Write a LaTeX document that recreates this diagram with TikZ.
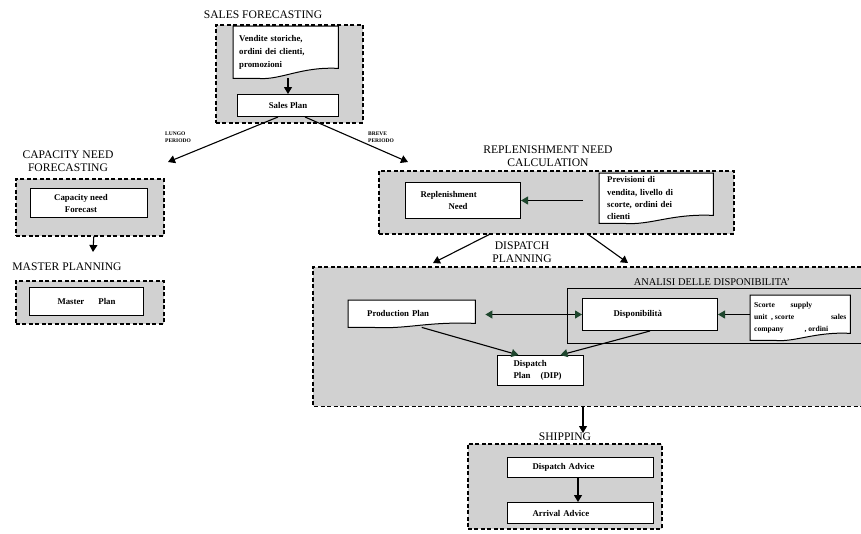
\documentclass[tikz,border=0pt]{standalone}
\usepackage{fontspec}
\setmainfont{Liberation Serif}
\usetikzlibrary{arrows.meta,calc}
\pgfdeclarelayer{back}
\pgfdeclarelayer{mid}
\pgfsetlayers{back,mid,main}
\definecolor{grpfill}{gray}{0.82}
\definecolor{tipgreen}{RGB}{30,70,45}
\newcommand\mydocshape[2]{%
\begin{pgfonlayer}{mid}
\draw[line width=1pt, fill=white] (#1.south west) -- (#1.north west) -- (#1.north east) -- ($(#1.south east)+(0,-#2)$)
  .. controls ($(#1.south)+(15,{-#2-2})$) and ($(#1.south)+(-5,2)$) .. ($(#1.south west)+(25,0)$) -- cycle;
\end{pgfonlayer}}
\begin{document}
\begin{tikzpicture}[x=1pt,y=-1pt,
  group/.style={draw, line width=1.5pt, dash pattern=on 4pt off 2.5pt, fill=grpfill, anchor=north west, inner sep=0},
  fillonly/.style={fill=grpfill, anchor=north west, inner sep=0},
  dashline/.style={line width=1.5pt, dash pattern=on 4pt off 2.5pt},
  box/.style={draw, line width=1pt, fill=white, anchor=north west, inner sep=0, font=\bfseries\fontsize{8.8}{12}\selectfont},
  doc/.style={anchor=north west, inner ysep=0, font=\bfseries\fontsize{8.8}{13}\selectfont, align=left},
  title/.style={font=\fontsize{11.6}{13}\selectfont, align=center, inner sep=0},
  small/.style={font=\bfseries\fontsize{5.5}{7.5}\selectfont, align=left, inner sep=0},
  arr/.style={-{Triangle[width=8pt,length=7pt]}, line width=1.1pt},
  garr/.style={-{Triangle[width=8pt,length=7pt,color=tipgreen]}, line width=1.1pt},
  gdarr/.style={{Triangle[width=8pt,length=7pt,color=tipgreen]}-{Triangle[width=8pt,length=7pt,color=tipgreen]}, line width=1.1pt}
]
\useasboundingbox (0,0) rectangle (861,533);

% ---------- group backgrounds ----------
\begin{pgfonlayer}{back}
\node[group, minimum width=147pt, minimum height=98pt] (salesgroup) at (215,24) {};
\node[group, minimum width=148pt, minimum height=57pt] (capgroup) at (15,178) {};
\node[group, minimum width=148pt, minimum height=43pt] (mastergroup) at (15,280) {};
\node[group, minimum width=355pt, minimum height=63pt] (repgroup) at (378,170) {};
\node[fillonly, minimum width=548pt, minimum height=139pt] (dispgroup) at (313,267) {};
\draw[dashline] (dispgroup.north east) -- (dispgroup.north west) -- (dispgroup.south west) -- (dispgroup.south east);
\node[anchor=north west, inner sep=0, minimum width=294pt, minimum height=55pt] (analisi) at (567,288) {};
\draw[line width=0.6pt] (analisi.north east) -- (analisi.north west) -- (analisi.south west) -- (analisi.south east);
\node[group, minimum width=194pt, minimum height=85pt] (shipgroup) at (467,443) {};
\end{pgfonlayer}

% ---------- titles ----------
\node[title] (salestitle) at (263,15) {SALES FORECASTING};
\node[title] (captitle) at (68,161) {CAPACITY NEED\\FORECASTING};
\node[title] (mastertitle) at (67,267) {MASTER PLANNING};
\node[title] (reptitle) at (548,156) {REPLENISHMENT NEED\\CALCULATION};
\node[title] (disptitle) at (522,252) {DISPATCH\\PLANNING};
\node[title, font=\fontsize{10.4}{11}\selectfont] (analisititle) at (712,282) {ANALISI DELLE DISPONIBILITA'};
\node[title] (shiptitle) at (565,437) {SHIPPING};
\node[small] (lungo) at (178,137) {LUNGO\\PERIODO};
\node[small] (breve) at (381,137) {BREVE\\PERIODO};

% ---------- sales forecasting ----------
\node[doc, minimum width=105pt, minimum height=52pt, text width=93pt, inner xsep=6pt] (vend) at (233,26) {Vendite storiche,\\ordini dei clienti,\\promozioni};
\mydocshape{vend}{10}
\node[box, minimum width=101pt, minimum height=22pt] (salesplan) at (237,94) {Sales Plan};

% ---------- capacity / master ----------
\node[box, minimum width=117pt, minimum height=29pt, align=center] (capneed) at (30,188) {Capacity need\hspace*{16pt}\\Forecast\hspace*{16pt}};
\node[box, minimum width=114pt, minimum height=28pt] (masterplan) at (29,287) {Master\hspace{14pt}Plan};

% ---------- replenishment ----------
\node[box, minimum width=115pt, minimum height=36pt, align=left, text width=85pt, inner xsep=15pt] (repneed) at (405,182) {Replenishment\\\hspace*{28pt}Need};
\node[doc, minimum width=114pt, minimum height=50pt, text width=98pt, inner xsep=8pt, font=\bfseries\fontsize{8.8}{12.3}\selectfont] (prev) at (599,173) {Previsioni di\\vendita, livello di\\scorte, ordini dei\\clienti};
\mydocshape{prev}{8}

% ---------- dispatch planning ----------
\node[doc, minimum width=127pt, minimum height=27pt, text width=89pt, inner xsep=19pt] (prod) at (348,300) {Production Plan\\[-4pt]};
\mydocshape{prod}{4}
\node[box, minimum width=135pt, minimum height=32pt, align=left, text width=73pt, inner xsep=31pt] (disp) at (582,298) {Disponibilità};
\node[doc, minimum width=100pt, minimum height=45pt, text width=92pt, inner xsep=4pt, font=\bfseries\fontsize{7.6}{12}\selectfont, align=justify] (scorte) at (750,295) {Scorte\hfill supply\hspace*{34pt}\mbox{}\\unit~~, scorte\hfill sales\\company\hfill , ordini\hspace*{18pt}\mbox{}};
\mydocshape{scorte}{7}
\node[box, minimum width=86pt, minimum height=30pt, align=left, text width=54pt, inner xsep=16pt] (dip) at (497,355) {Dispatch\\Plan\hspace{10pt}(DIP)};

% ---------- shipping ----------
\node[box, minimum width=146pt, minimum height=20pt, align=left, text width=96pt, inner xsep=25pt] (dispadv) at (507,457) {Dispatch Advice};
\node[box, minimum width=146pt, minimum height=21pt, align=left, text width=96pt, inner xsep=25pt] (arradv) at (507,502) {Arrival Advice};

% ---------- coordinates for free arrow ends ----------
\coordinate (lungoend) at (168,162);
\coordinate (breveend) at (408,162);
\coordinate (masterend) at (93,252);
\coordinate (dpleft) at (433,263);
\coordinate (dpright) at (628,263);
\coordinate (shipend) at (583,433);

% ---------- connectors ----------
\draw[arr] (salesplan.north |- vend.south) -- (salesplan.north);
\draw[arr] ([xshift=-10pt]salesplan.south) -- (lungoend);
\draw[arr] ([xshift=17pt]salesplan.south) -- (breveend);
\draw[arr] ([xshift=4pt]capgroup.south) -- (masterend);
\draw[garr] ($(prev.west |- repneed.east)+(-16,0)$) -- (repneed.east);
\draw[arr] ([xshift=-67pt]repgroup.south) -- (dpleft);
\draw[arr] ([xshift=32pt]repgroup.south) -- (dpright);
\draw[gdarr] ([xshift=10pt]prod.east |- disp.west) -- (disp.west);
\draw[garr] (scorte.west |- disp.east) -- (disp.east);
\draw[garr] ([xshift=10pt]prod.south) -- ([xshift=-22pt]dip.north);
\draw[garr] (disp.south) -- ([xshift=20pt]dip.north);
\draw[arr] (dispgroup.south -| shipend) -- (shipend);
\draw[arr] (dispadv.south -| 578,0) -- (arradv.north -| 578,0);
\end{tikzpicture}
\end{document}
